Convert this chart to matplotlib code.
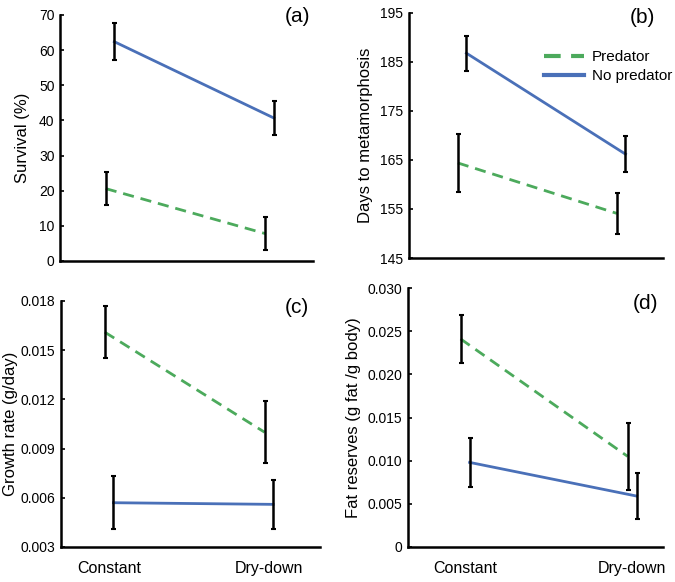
import matplotlib
matplotlib.use("Agg")
import matplotlib.pyplot as plt
import numpy as np

plt.rcParams['font.family'] = ['Liberation Sans', 'DejaVu Sans']

categories = ["Constant", "Dry-down"]
series_names = ["Predator", "No predator"]

# Panel (a) Survival (%)
surv_pred = [20.6, 7.8]
surv_pred_err = [4.6, 4.8]
surv_nopred = [62.4, 40.7]
surv_nopred_err = [5.3, 4.9]

# Panel (b) Days to metamorphosis
days_pred = [164.4, 154.1]
days_pred_err = [6.0, 4.1]
days_nopred = [186.8, 166.2]
days_nopred_err = [3.6, 3.7]

# Panel (c) Growth rate (g/day)
grow_pred = [0.0161, 0.0100]
grow_pred_err = [0.0016, 0.0019]
grow_nopred = [0.0057, 0.0056]
grow_nopred_err = [0.0016, 0.0015]

# Panel (d) Fat reserves
fat_pred = [0.0241, 0.0105]
fat_pred_err = [0.0028, 0.0039]
fat_nopred = [0.0098, 0.0059]
fat_nopred_err = [0.0028, 0.0027]

a_ticks = [0, 10, 20, 30, 40, 50, 60, 70]
b_ticks = [145, 155, 165, 175, 185, 195]
c_ticks = [0.003, 0.006, 0.009, 0.012, 0.015, 0.018]
c_ticklabels = ["0.003", "0.006", "0.009", "0.012", "0.015", "0.018"]
d_ticks = [0, 0.005, 0.010, 0.015, 0.020, 0.025, 0.030]
d_ticklabels = ["0", "0.005", "0.010", "0.015", "0.020", "0.025", "0.030"]

BLUE = "#4a70b8"
GREEN = "#4caa5c"

W, H = 675, 582
fig = plt.figure(figsize=(W / 100, H / 100), dpi=100)

def box(l, r, t, b):
    return [l / W, 1 - b / H, (r - l) / W, (b - t) / H]

panels = [
    dict(rect=box(60, 313, 15, 261), xlim=(-0.314, 1.273), ylim=(0, 70), ticks=a_ticks,
         tl=[str(t) for t in a_ticks], ylabel="Survival (%)", tag="(a)", tagpos=(0.94, 0.995),
         pred=surv_pred, pe=surv_pred_err, nop=surv_nopred, ne=surv_nopred_err, xl=False, lp=6),
    dict(rect=box(409, 663, 13, 258), xlim=(-0.334, 1.263), ylim=(145, 195), ticks=b_ticks,
         tl=[str(t) for t in b_ticks], ylabel="Days to metamorphosis", tag="(b)", tagpos=(0.92, 0.98),
         pred=days_pred, pe=days_pred_err, nop=days_nopred, ne=days_nopred_err, xl=False, lp=5),
    dict(rect=box(61, 320, 301, 547), xlim=(-0.301, 1.320), ylim=(0.003, 0.018), ticks=c_ticks,
         tl=c_ticklabels, ylabel="Growth rate (g/day)", tag="(c)", tagpos=(0.91, 0.975),
         pred=grow_pred, pe=grow_pred_err, nop=grow_nopred, ne=grow_nopred_err, xl=True, lp=2),
    dict(rect=box(408, 663, 288, 547), xlim=(-0.342, 1.185), ylim=(0, 0.030), ticks=d_ticks,
         tl=d_ticklabels, ylabel="Fat reserves (g fat /g body)", tag="(d)", tagpos=(0.93, 0.94),
         pred=fat_pred, pe=fat_pred_err, nop=fat_nopred, ne=fat_nopred_err, xl=True, lp=5),
]

x = np.arange(len(categories))
dodge = 0.027

axes = []
for p in panels:
    ax = fig.add_axes(p["rect"])
    axes.append(ax)
    xp = x - dodge
    xn = x + dodge
    ax.plot(xp, p["pred"], color=GREEN, lw=2.0, dashes=(4, 2.5), label=series_names[0], zorder=2)
    ax.plot(xn, p["nop"], color=BLUE, lw=2.0, label=series_names[1], zorder=2)
    ax.errorbar(xp, p["pred"], yerr=p["pe"], fmt="none", ecolor="black", elinewidth=1.8,
                capsize=1.8, capthick=1.5, zorder=3)
    ax.errorbar(xn, p["nop"], yerr=p["ne"], fmt="none", ecolor="black", elinewidth=1.8,
                capsize=1.8, capthick=1.5, zorder=3)
    ax.set_xlim(*p["xlim"])
    ax.set_ylim(*p["ylim"])
    ax.set_yticks(p["ticks"])
    ax.set_yticklabels(p["tl"], fontsize=10)
    ax.tick_params(axis="y", direction="in", length=3, width=1.2, pad=4)
    ax.tick_params(axis="x", length=0, pad=10)
    if p["xl"]:
        ax.set_xticks(x)
        ax.set_xticklabels(categories, fontsize=11.5)
    else:
        ax.set_xticks([])
    for s in ["top", "right"]:
        ax.spines[s].set_visible(False)
    for s in ["left", "bottom"]:
        ax.spines[s].set_linewidth(1.8)
        ax.spines[s].set_color("black")
    ax.set_ylabel(p["ylabel"], fontsize=12, labelpad=p["lp"])
    ax.text(p["tagpos"][0], p["tagpos"][1], p["tag"], transform=ax.transAxes,
            fontsize=15, ha="center", va="center")

leg = axes[1].legend(loc="upper right", bbox_to_anchor=(1.09, 0.905), frameon=False,
                     fontsize=11, handlelength=2.6, handletextpad=0.5, labelspacing=0.35)
for line in leg.get_lines():
    line.set_linewidth(3.0)

fig.savefig("out.png", dpi=100)
